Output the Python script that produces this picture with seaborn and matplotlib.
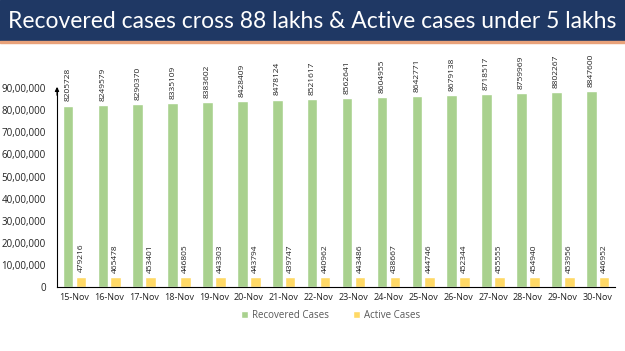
import seaborn as sns
import matplotlib.pyplot as plt
import pandas as pd
from matplotlib.ticker import FuncFormatter
from matplotlib.patches import Rectangle

dates = ["15-Nov", "16-Nov", "17-Nov", "18-Nov", "19-Nov", "20-Nov", "21-Nov", "22-Nov",
         "23-Nov", "24-Nov", "25-Nov", "26-Nov", "27-Nov", "28-Nov", "29-Nov", "30-Nov"]
recovered = [8205728, 8249579, 8290370, 8335109, 8383602, 8428409, 8478124, 8521617,
             8562641, 8604955, 8642771, 8679138, 8718517, 8759969, 8802267, 8847600]
active = [479216, 465478, 453401, 446805, 443303, 443794, 439747, 440962,
          443486, 438667, 444746, 452344, 455555, 454940, 453956, 446952]
series = ["Recovered Cases", "Active Cases"]
colors = ["#a9d18e", "#ffd966"]
title = "Recovered cases cross 88 lakhs & Active cases under 5 lakhs"

df = pd.DataFrame({
    "date": dates * 2,
    "cases": recovered + active,
    "series": [series[0]] * len(dates) + [series[1]] * len(dates),
})


def indian(x, pos=None):
    # 9000000 -> 90,00,000
    s = str(int(round(x)))
    if len(s) <= 3:
        return s
    head, tail = s[:-3], s[-3:]
    parts = []
    while len(head) > 2:
        parts.insert(0, head[-2:])
        head = head[:-2]
    if head:
        parts.insert(0, head)
    return ",".join(parts) + "," + tail


sns.set_style("white")
plt.rcParams['font.family'] = ['Open Sans', 'DejaVu Sans']

fig = plt.figure(figsize=(6.25, 3.51), dpi=100)

# title banner
fig.patches.append(Rectangle((0, 1 - 40 / 351), 1, 40 / 351, transform=fig.transFigure,
                             color="#1f3864", zorder=0))
fig.patches.append(Rectangle((0, 1 - 43 / 351), 1, 2 / 351, transform=fig.transFigure,
                             color="#e9a27a", zorder=0))
fig.text(0.012, 1 - 21 / 351, title, color="white", fontsize=16.5, va="center",
         ha="left", family=["Lato", "DejaVu Sans"])

ax = fig.add_axes([0.0912, 0.182, 0.893, 0.567])
sns.barplot(data=df, x="date", y="cases", hue="series", palette=colors, saturation=1,
            width=0.74, gap=0.18, ax=ax, legend=True)

for cont in ax.containers:
    ax.bar_label(cont, fmt="%d", rotation=90, padding=3, fontsize=6, color="#222222",
                 clip_on=False)

ax.set_ylim(0, 9000000)
ax.set_xlim(-0.5, len(dates) - 0.5)
ax.set_yticks(range(0, 9000001, 1000000))
ax.yaxis.set_major_formatter(FuncFormatter(indian))
ax.tick_params(axis="y", labelsize=7, colors="#222222", length=0, pad=8)
ax.set_xticks(range(len(dates)))
ax.set_xticklabels(dates)
ax.tick_params(axis="x", labelsize=6.5, colors="#222222", length=0, pad=4)
# tick marks at category boundaries
ax.set_xticks([i - 0.5 for i in range(len(dates) + 1)], minor=True)
ax.tick_params(axis="x", which="minor", length=4, width=0.8, color="black", direction="out")
ax.set_xlabel("")
ax.set_ylabel("")

for side in ["top", "right"]:
    ax.spines[side].set_visible(False)
ax.spines["left"].set_color("black")
ax.spines["bottom"].set_color("black")
ax.spines["left"].set_linewidth(0.8)
ax.spines["bottom"].set_linewidth(0.8)
ax.annotate("", xy=(0, 1.02), xytext=(0, 0.95), xycoords="axes fraction",
            arrowprops=dict(arrowstyle="-|>", color="black", lw=0.8, mutation_scale=6))

ax.legend(loc="upper center", bbox_to_anchor=(0.49, -0.07), ncol=2, frameon=False,
          fontsize=7, labelcolor="#595959", handlelength=0.7, handleheight=0.7,
          columnspacing=2.5, handletextpad=0.4)

plt.savefig("out.png", dpi=100)
